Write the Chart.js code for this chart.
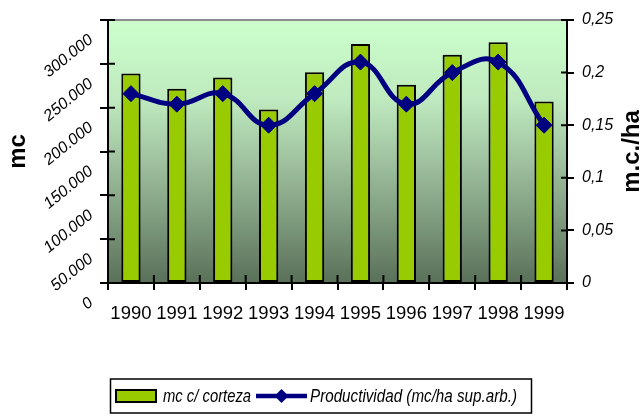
<!DOCTYPE html>
<html lang="es">
<head>
<meta charset="utf-8">
<title>mc c/ corteza y productividad</title>
<script src="https://cdn.jsdelivr.net/npm/chart.js@4.4.1/dist/chart.umd.min.js"></script>
<style>
    html, body { margin: 0; padding: 0; background: #ffffff; }
    #contenedor { width: 644px; height: 416px; }
</style>
</head>
<body>
<div id="contenedor">
    <canvas id="grafico" width="644" height="416"></canvas>
</div>
<script>
const anios = ["1990", "1991", "1992", "1993", "1994", "1995", "1996", "1997", "1998", "1999"];

// mc con corteza (eje izquierdo)
const volumen = [239000, 221500, 234500, 198000, 240500, 272500, 226000, 260500, 274500, 207000];

// productividad mc/ha (eje derecho)
const productividad = [0.18, 0.17, 0.18, 0.15, 0.18, 0.21, 0.17, 0.20, 0.21, 0.15];

const etiquetasIzquierda = ["0", "50.000", "100.000", "150.000", "200.000", "250.000", "300.000"];
const etiquetasDerecha = ["0", "0,05", "0,1", "0,15", "0,2", "0,25"];

const nombreBarras = "mc c/ corteza";
const nombreLinea = "Productividad (mc/ha sup.arb.)";

const fuenteNormal = "Arial, 'Liberation Sans', sans-serif";

const verdeBarra = "#99cc00";
const azulLinea = "#000080";

const fondoDegradado = {
    id: "fondoDegradado",
    beforeDraw(chart) {
        const { ctx, chartArea } = chart;
        const grad = ctx.createLinearGradient(0, chartArea.top, 0, chartArea.bottom);
        grad.addColorStop(0, "#ccffcc");
        grad.addColorStop(0.3, "#bfeabf");
        grad.addColorStop(0.55, "#9dbf9d");
        grad.addColorStop(0.8, "#789478");
        grad.addColorStop(1, "#5a7059");
        ctx.save();
        ctx.fillStyle = grad;
        ctx.fillRect(chartArea.left, chartArea.top, chartArea.right - chartArea.left, chartArea.bottom - chartArea.top);
        ctx.restore();
    }
};

// texto angosto (la fuente original es condensada)
function textoAngosto(ctx, texto, x, y, factor) {
    ctx.save();
    ctx.translate(x, y);
    ctx.scale(factor, 1);
    ctx.fillText(texto, 0, 0);
    ctx.restore();
}

const detalles = {
    id: "detalles",
    afterDraw(chart) {
        const { ctx, chartArea } = chart;
        const escalaX = chart.scales.x;
        const escalaY = chart.scales.y;
        const escalaY1 = chart.scales.y1;

        ctx.save();

        // borde superior gris
        ctx.strokeStyle = "#8c8c8c";
        ctx.lineWidth = 2;
        ctx.beginPath();
        ctx.moveTo(chartArea.left, chartArea.top);
        ctx.lineTo(chartArea.right, chartArea.top);
        ctx.stroke();

        // marcas hacia adentro
        ctx.strokeStyle = "#000000";
        ctx.lineWidth = 2;
        ctx.beginPath();
        escalaY.ticks.forEach((t, i) => {
            const y = escalaY.getPixelForTick(i);
            ctx.moveTo(chartArea.left, y);
            ctx.lineTo(chartArea.left + 7, y);
        });
        escalaY1.ticks.forEach((t, i) => {
            const y = escalaY1.getPixelForTick(i);
            ctx.moveTo(chartArea.right, y);
            ctx.lineTo(chartArea.right - 6, y);
        });
        for (let i = 0; i <= anios.length; i++) {
            const x = escalaX.getPixelForValue(i - 0.5);
            ctx.moveTo(x, chartArea.bottom);
            ctx.lineTo(x, chartArea.bottom - 8);
        }
        ctx.stroke();

        // titulo eje derecho
        ctx.fillStyle = "#000000";
        ctx.font = "bold 24px " + fuenteNormal;
        ctx.textAlign = "center";
        ctx.textBaseline = "middle";
        ctx.translate(632, (chartArea.top + chartArea.bottom) / 2);
        ctx.rotate(-Math.PI / 2);
        ctx.fillText("m.c./ha", 0, 0);
        ctx.restore();

        // leyenda
        ctx.save();
        ctx.strokeStyle = "#000000";
        ctx.lineWidth = 1.5;
        ctx.strokeRect(110.5, 379, 421, 34);

        ctx.fillStyle = verdeBarra;
        ctx.fillRect(116, 390, 40, 12);
        ctx.lineWidth = 2;
        ctx.strokeRect(116, 390, 40, 12);

        ctx.fillStyle = "#000000";
        ctx.font = "italic 19px " + fuenteNormal;
        ctx.textAlign = "left";
        ctx.textBaseline = "middle";
        textoAngosto(ctx, nombreBarras, 163, 397, 0.78);

        ctx.strokeStyle = azulLinea;
        ctx.lineWidth = 4.5;
        ctx.beginPath();
        ctx.moveTo(256, 396);
        ctx.lineTo(307, 396);
        ctx.stroke();
        ctx.fillStyle = azulLinea;
        ctx.beginPath();
        ctx.moveTo(281.5, 389);
        ctx.lineTo(288.5, 396);
        ctx.lineTo(281.5, 403);
        ctx.lineTo(274.5, 396);
        ctx.closePath();
        ctx.fill();

        ctx.fillStyle = "#000000";
        textoAngosto(ctx, nombreLinea, 310, 397, 0.80);
        ctx.restore();
    }
};

new Chart(document.getElementById("grafico"), {
    data: {
        labels: anios,
        datasets: [
            {
                type: "line",
                label: nombreLinea,
                data: productividad,
                yAxisID: "y1",
                order: 0,
                borderColor: azulLinea,
                borderWidth: 5,
                tension: 0.45,
                pointStyle: "rectRot",
                pointRadius: 8,
                pointBackgroundColor: azulLinea,
                pointBorderColor: azulLinea,
                pointBorderWidth: 1,
                clip: false
            },
            {
                type: "bar",
                label: nombreBarras,
                data: volumen,
                yAxisID: "y",
                order: 1,
                backgroundColor: verdeBarra,
                borderColor: "#000000",
                borderWidth: 2,
                borderSkipped: false,
                barPercentage: 0.42,
                categoryPercentage: 1
            }
        ]
    },
    options: {
        responsive: false,
        animation: false,
        layout: {
            padding: { top: 20, left: 0, right: 0, bottom: 0 }
        },
        plugins: {
            legend: { display: false },
            tooltip: { enabled: false }
        },
        scales: {
            x: {
                type: "category",
                offset: true,
                grid: {
                    offset: true,
                    drawOnChartArea: false,
                    drawTicks: true,
                    tickLength: 7,
                    color: "#000000",
                    lineWidth: 2
                },
                border: { color: "#000000", width: 2 },
                ticks: {
                    color: "#000000",
                    padding: 13,
                    maxRotation: 0,
                    autoSkip: false,
                    font: { family: fuenteNormal, size: 18.5 }
                },
                afterFit(escala) { escala.height = 133; }
            },
            y: {
                position: "left",
                min: 0,
                max: 300000,
                grid: {
                    drawOnChartArea: false,
                    drawTicks: true,
                    tickLength: 8,
                    color: "#000000",
                    lineWidth: 2
                },
                border: { color: "#000000", width: 2 },
                ticks: {
                    stepSize: 50000,
                    minRotation: 39,
                    maxRotation: 50,
                    padding: 9,
                    labelOffset: 18,
                    color: "#000000",
                    font: { family: fuenteNormal, size: 16, style: "italic" },
                    callback: (valor, i) => etiquetasIzquierda[i]
                },
                title: {
                    display: true,
                    text: "mc",
                    color: "#000000",
                    padding: { top: 4, bottom: 0 },
                    font: { family: fuenteNormal, size: 24, weight: "bold" }
                },
                afterFit(escala) { escala.width = 108; }
            },
            y1: {
                position: "right",
                min: 0,
                max: 0.25,
                grid: {
                    drawOnChartArea: false,
                    drawTicks: true,
                    tickLength: 7,
                    color: "#000000",
                    lineWidth: 2
                },
                border: { color: "#000000", width: 2 },
                ticks: {
                    stepSize: 0.05,
                    padding: 8,
                    color: "#000000",
                    font: { family: fuenteNormal, size: 16, style: "italic" },
                    callback: (valor, i) => etiquetasDerecha[i]
                },
                afterFit(escala) { escala.width = 77; }
            }
        }
    },
    plugins: [fondoDegradado, detalles]
});
</script>
</body>
</html>
